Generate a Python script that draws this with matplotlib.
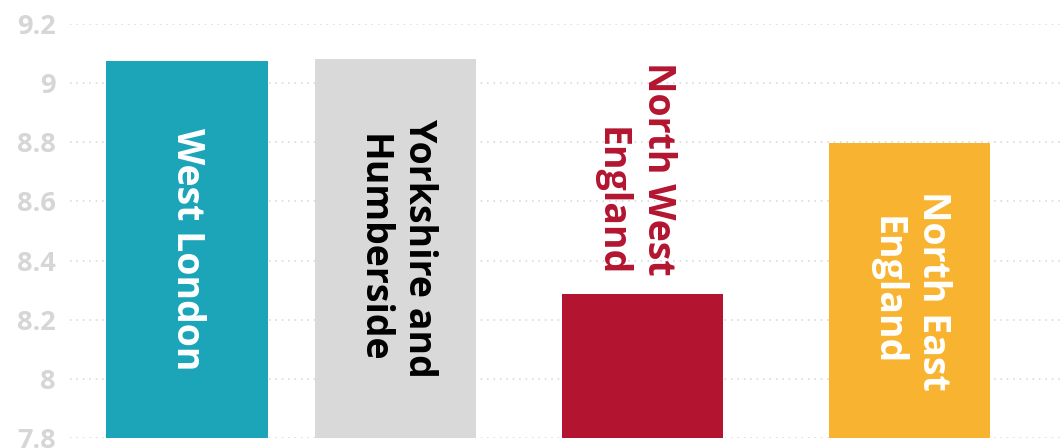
import matplotlib
matplotlib.use("Agg")
import matplotlib.pyplot as plt

# ---- data ----
regions = ["West London", "Yorkshire and\nHumberside", "North West\nEngland", "North East\nEngland"]
values = [9.075, 9.082, 8.287, 8.797]
y_ticks = [7.8, 8.0, 8.2, 8.4, 8.6, 8.8, 9.0, 9.2]
y_tick_labels = ["7.8", "8", "8.2", "8.4", "8.6", "8.8", "9", "9.2"]

# ---- layout / style ----
bar_centers = [117, 325.5, 572.5, 839.5]
bar_width = 161.5
bar_colors = ["#1CA5B8", "#D9D9D9", "#B31530", "#F8B430"]
label_colors = ["white", "black", "#B31530", "white"]
label_inside = [True, True, False, True]

plt.rcParams["font.family"] = ["Open Sans", "DejaVu Sans"]

W, H = 1064, 448
fig = plt.figure(figsize=(W / 100, H / 100), dpi=100)
ax = fig.add_axes([70 / W, 10 / H, (W - 70) / W, 414 / H])

ax.set_xlim(0, W - 70)
ax.set_ylim(7.8, 9.2)

for yv in y_ticks:
    ax.axhline(yv, color="#d4d4d4", lw=1.1, linestyle=(0, (1, 3.2)), zorder=0)

bars = ax.bar(bar_centers, [v - 7.8 for v in values], bottom=7.8, width=bar_width,
              color=bar_colors, zorder=2)

for x, v, lab, c, inside in zip(bar_centers, values, regions, label_colors, label_inside):
    if inside:
        ax.text(x, (v + 7.8) / 2, lab, rotation=-90, ha="center", va="center",
                color=c, fontsize=27, fontweight="bold", multialignment="center",
                linespacing=1.3, zorder=3)
    else:
        ax.annotate(lab, xy=(x, v), xytext=(-6, 13), textcoords="offset points",
                    rotation=-90, ha="center", va="bottom", color=c,
                    fontsize=27, fontweight="bold", multialignment="right",
                    linespacing=1.3, zorder=3)

ax.set_yticks(y_ticks)
ax.set_yticklabels(y_tick_labels)
ax.set_xticks([])
ax.tick_params(axis="y", length=0, pad=10, labelsize=19.5, labelcolor="#d6d6d6")
for t in ax.get_yticklabels():
    t.set_fontweight("bold")
for s in ax.spines.values():
    s.set_visible(False)

fig.savefig("out.png", dpi=100)
